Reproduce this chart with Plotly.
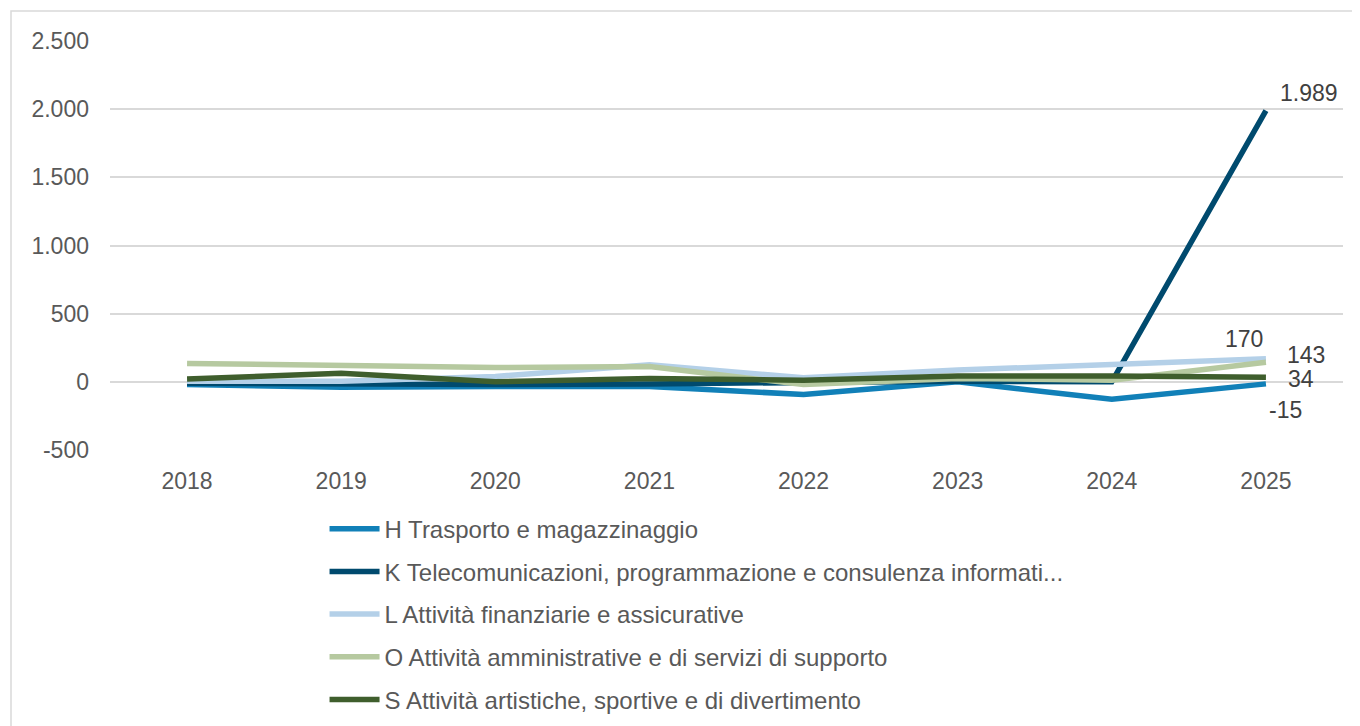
import plotly.graph_objects as go

years = ["2018", "2019", "2020", "2021", "2022", "2023", "2024", "2025"]
names = [
    "H Trasporto e magazzinaggio",
    "K Telecomunicazioni, programmazione e consulenza informati...",
    "L Attività finanziarie e assicurative",
    "O Attività amministrative e di servizi di supporto",
    "S Attività artistiche, sportive e di divertimento",
]
h_vals = [-20, -40, -35, -35, -93, 0, -128, -15]
k_vals = [-10, -20, -20, -15, 0, 5, 0, 1989]
l_vals = [5, 5, 40, 125, 30, 86, 128, 170]
o_vals = [135, 117, 105, 112, -20, 25, 12, 143]
s_vals = [20, 63, 0, 25, 12, 42, 42, 34]
y_tick_vals = [-500, 0, 500, 1000, 1500, 2000, 2500]
y_tick_text = ["-500", "0", "500", "1.000", "1.500", "2.000", "2.500"]

series = [h_vals, k_vals, l_vals, o_vals, s_vals]
colors = ["#1180B8", "#004A6E", "#B4D0E8", "#B6C9A0", "#3F5E2D"]
# label offsets (px) for the last-point labels
offsets = [(20, -26), (43, 18), (-22, 20), (40, 7), (35, -2)]

TXT = "#595959"
FONT = "Liberation Sans, Arial, sans-serif"

fig = go.Figure()
for i, (name, vals, col) in enumerate(zip(names, series, colors)):
    fig.add_trace(go.Scatter(
        x=years, y=vals, name=name, mode="lines",
        line=dict(color=col, width=5.5),
        legendgroup=f"g{i}",
    ))
    dx, dy = offsets[i]
    fig.add_annotation(
        x=len(years) - 1, y=vals[-1], xref="x", yref="y",
        text=f"{vals[-1]:,}".replace(",", "."),
        showarrow=False, xshift=dx, yshift=dy,
        font=dict(size=23, color="#404040", family=FONT),
    )

W, H = 1352, 718
fig.update_layout(
    width=W, height=H,
    margin=dict(l=102, r=17, t=33, b=276),
    paper_bgcolor="white", plot_bgcolor="white",
    font=dict(family=FONT, size=23, color=TXT),
    xaxis=dict(
        type="category", range=[-0.5, 7.5], showgrid=False, zeroline=False,
        showline=False, ticks="", ticklabelstandoff=15,
        tickfont=dict(size=23, color=TXT),
    ),
    yaxis=dict(
        range=[-500, 2500], tickmode="array",
        tickvals=y_tick_vals, ticktext=y_tick_text,
        showgrid=True, gridcolor="#D9D9D9", gridwidth=1.5,
        zeroline=True, zerolinecolor="#D9D9D9", zerolinewidth=1.5,
        showline=False, ticks="", ticklabelstandoff=20,
        tickfont=dict(size=23, color=TXT),
    ),
    showlegend=True,
    legend=dict(
        orientation="v", x=0.174, xanchor="left",
        yref="container", y=0.3056, yanchor="top",
        font=dict(size=24, color=TXT, family=FONT),
        itemwidth=50, tracegroupgap=8.5, bgcolor="rgba(0,0,0,0)",
        traceorder="grouped",
    ),
    shapes=[dict(
        type="rect", xref="paper", yref="paper",
        x0=(3 - 102) / 1233, x1=1.2, y0=-1.0, y1=1 + 30 / 409,
        line=dict(color="#D9D9D9", width=1.5), fillcolor="rgba(0,0,0,0)",
        layer="below",
    )],
)

fig.write_html("out.html")
